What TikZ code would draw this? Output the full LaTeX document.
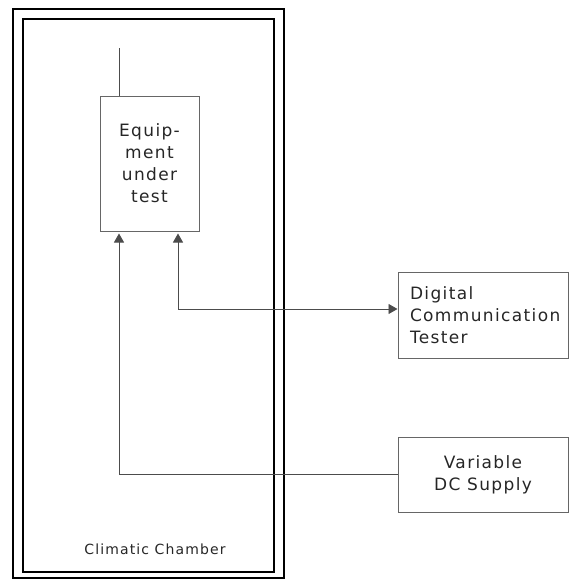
\documentclass[tikz,border=0pt]{standalone}
\usepackage{fontspec}
\setmainfont{DejaVu Sans}[LetterSpace=8]
\usepackage{tikz}
\usetikzlibrary{calc,arrows.meta,positioning}
\tikzset{
  wall/.style={line width=2.8pt,black},
  unit/.style={draw=black!60,line width=1pt,minimum width=170pt,inner sep=0pt},
  every node/.style={font=\fontsize{17}{22}\selectfont,text=black!85}
}
\tikzstyle{link} = [draw=black!70,line width=0.9pt,>={Triangle[length=9pt,width=10pt]}]

\begin{document}
\begin{tikzpicture}[x=1pt,y=-1pt]
  \useasboundingbox (0,0) rectangle (569,582);
  % Climatic chamber walls
  \draw[wall] (13,9) rectangle (284,578);
  \draw[wall] (23,19) rectangle (274,572);
  \node (chamber) at (155,549) {\fontsize{14}{16}\selectfont Climatic Chamber};
  % Equipment under test with antenna
  \node[draw=black!60,line width=1pt,minimum width=99pt,minimum height=135pt,
        inner sep=0pt,align=center] (eut) at (149.5,163.5) {Equip-\\ment\\under\\test};
  \coordinate (ant) at (119,48);
  \draw[link] (ant) -- (ant |- eut.north);
  % Instruments outside the chamber
  \node[unit,minimum height=86pt,align=left,text width=146pt] (tester) at (483,315)
    {Digital\\Communication\\Tester};
  \node[unit,minimum height=75pt,align=center] (supply) at (483,474.5)
    {Variable\\DC Supply};
  % Connections
  \draw[link,->] (supply.west) -| ([xshift=-30.5pt,yshift=-2pt]eut.south);
  \draw[link,<->] ([xshift=28.5pt,yshift=-2pt]eut.south) |- ([yshift=6pt]tester.west);
\end{tikzpicture}
\end{document}
